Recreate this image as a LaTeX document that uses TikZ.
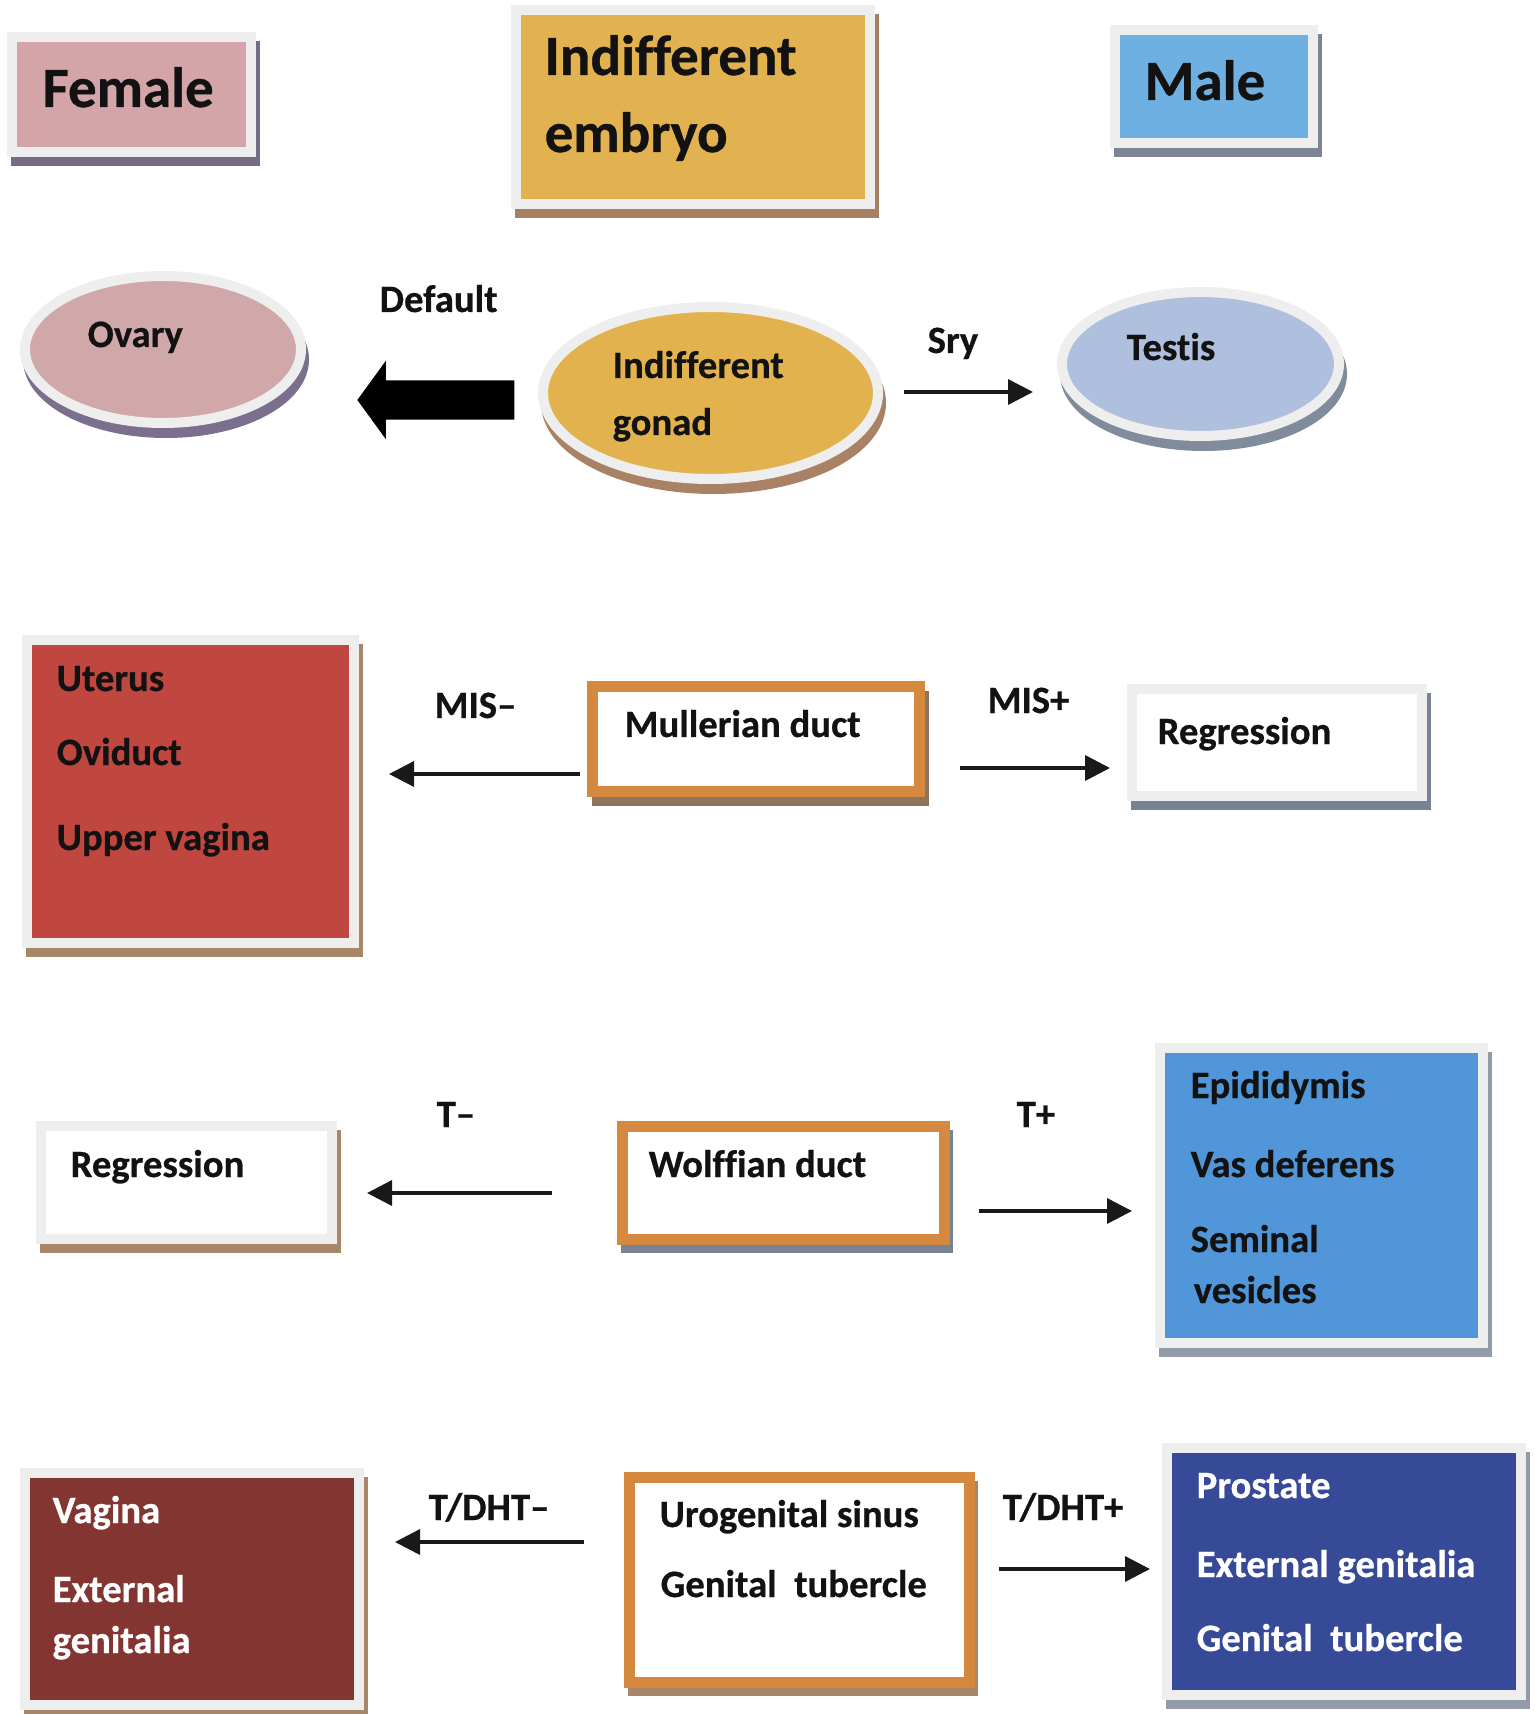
\documentclass[tikz,border=0pt]{standalone}
\usepackage{fontspec}
\setmainfont{Carlito}[Ligatures={TeX,NoCommon}, BoldFeatures={FakeBold=0.6}]
\usetikzlibrary{arrows.meta,shapes.geometric,shapes.arrows}

\definecolor{rim}{HTML}{EEEEEE}
\definecolor{ductline}{HTML}{D4893E}
\definecolor{femalepink}{HTML}{D3A5A8}
\definecolor{femaleshade}{HTML}{766C86}
\definecolor{embryogold}{HTML}{E3B250}
\definecolor{embryoshade}{HTML}{A77F62}
\definecolor{maleblue}{HTML}{6EB0E2}
\definecolor{maleshade}{HTML}{7C8594}
\definecolor{ovarypink}{HTML}{D1A8AA}
\definecolor{ovaryshade}{HTML}{7B6F8E}
\definecolor{gonadgold}{HTML}{E2B24F}
\definecolor{gonadshade}{HTML}{A98265}
\definecolor{testisblue}{HTML}{AEC0DD}
\definecolor{testisshade}{HTML}{808B9B}
\definecolor{uterusred}{HTML}{C0473F}
\definecolor{brownshade}{HTML}{A8866A}
\definecolor{greyshade}{HTML}{778292}
\definecolor{epidblue}{HTML}{5196D9}
\definecolor{vaginared}{HTML}{833631}
\definecolor{prostblue}{HTML}{364A97}

\begin{document}
\begin{tikzpicture}[
    x=0.1mm, y=-0.1mm,
    card/.style 2 args={rectangle, draw=rim, line width=1mm, fill=#1, inner sep=0pt,
      preaction={fill=#2, draw=#2, line width=1mm, transform canvas={shift={(0.4mm,-0.9mm)}}}},
    duct/.style={card={white}{#1}, draw=ductline, line width=1.1mm},
    disc/.style 2 args={ellipse, draw=rim, line width=1mm, fill=#1, inner sep=0pt,
      preaction={fill=#2, draw=#2, line width=1mm, transform canvas={shift={(0.3mm,-1.0mm)}}}},
    title/.style={anchor=base west, inner sep=0pt, text=black!93, font=\bfseries\fontsize{16.2}{19}\selectfont},
    lbl/.style={anchor=base west, inner sep=0pt, text=black!93, font=\bfseries\fontsize{11}{13}\selectfont},
    arr/.style={line width=0.35mm, draw=black!90, -{Triangle[length=2.5mm, width=2.5mm]}},
  ]
    \useasboundingbox (0,0) rectangle (1534,1714);

    % Headings
    \node[card={femalepink}{femaleshade}, minimum width=23.9mm, minimum height=11.5mm] (female) at (131.5,94.5) {};
    \node[title] (female-t) at (42,107) {Female};
    \node[card={embryogold}{embryoshade}, minimum width=35.4mm, minimum height=19.4mm] (embryo) at (693,107) {};
    \node[title] (embryo-t1) at (544,75) {Indifferent};
    \node[title] (embryo-t2) at (544,152) {embryo};
    \node[card={maleblue}{maleshade}, minimum width=19.8mm, minimum height=11.3mm] (male) at (1214,86.5) {};
    \node[title] (male-t) at (1144,100) {Male};

    % Gonads
    \node[disc={ovarypink}{ovaryshade}, minimum width=27.6mm, minimum height=14.7mm] (ovary) at (163,349.5) {};
    \node[lbl] (ovary-t) at (87,347) {Ovary};
    \node[disc={gonadgold}{gonadshade}, minimum width=33.5mm, minimum height=17.2mm,
      preaction={transform canvas={shift={(0.3mm,-1.4mm)}}}] (gonad) at (710.5,393) {};
    \node[lbl] (gonad-t1) at (612,378) {Indifferent};
    \node[lbl] (gonad-t2) at (612,435) {gonad};
    \node[disc={testisblue}{testisshade}, minimum width=27.7mm, minimum height=14.4mm] (testis) at (1200.5,364) {};
    \node[lbl] (testis-t) at (1126,360) {Testis};
    \node[single arrow, fill=black, inner sep=1.9mm, minimum height=15.7mm,
      single arrow head extend=1.95mm, single arrow tip angle=108,
      shape border rotate=180] (default) at (443,400) {};
    \node[lbl] (default-t) at (379,312) {Default};
    \node[lbl] (sry-t) at (927,353) {Sry};
    \coordinate (sry-a) at (904,392);
    \coordinate (sry-b) at (1033,392);
    \draw[arr] (sry-a) -- (sry-b);

    % Mullerian duct
    \node[card={uterusred}{brownshade}, minimum width=32.7mm, minimum height=30.3mm] (uterus) at (190.5,791.5) {};
    \foreach \y/\t [count=\i] in {691/Uterus, 765/Oviduct, 850/Upper vagina}
    { \node[lbl] (uterus-\i) at (56,\y) {\t}; }
    \node[duct={brownshade!85!black}, minimum width=32.7mm, minimum height=10.5mm] (mull) at (756,739) {};
    \node[lbl] (mull-t) at (624,737) {Mullerian duct};
    \node[card={white}{greyshade}, minimum width=29.0mm, minimum height=10.7mm] (regr) at (1277,742.5) {};
    \node[lbl] (regr-t) at (1157,744) {Regression};
    \node[lbl] (mis-minus) at (434,718) {MIS–};
    \node[lbl] (mis-plus) at (987,713) {MIS+};
    \coordinate (mm-a) at (580,774);
    \coordinate (mm-b) at (389,774);
    \coordinate (mp-a) at (960,768);
    \coordinate (mp-b) at (1110,768);
    \draw[arr] (mm-a) -- (mm-b);
    \draw[arr] (mp-a) -- (mp-b);

    % Wolffian duct
    \node[card={white}{brownshade}, minimum width=29.1mm, minimum height=11.3mm] (regl) at (186.5,1182.5) {};
    \node[lbl] (regl-t) at (70,1177) {Regression};
    \node[duct={greyshade}, minimum width=32.2mm, minimum height=11.3mm] (wolff) at (783,1182.5) {};
    \node[lbl] (wolff-t) at (648,1177) {Wolffian duct};
    \node[card={epidblue}{greyshade!80!white}, minimum width=32.3mm, minimum height=29.5mm] (epid) at (1321.5,1195.5) {};
    \foreach \x/\y/\t [count=\i] in {1190/1098/Epididymis, 1190/1177/Vas deferens, 1190/1252/Seminal, 1193/1303/vesicles}
    { \node[lbl] (epid-\i) at (\x,\y) {\t}; }
    \node[lbl] (t-minus) at (436,1127) {T–};
    \node[lbl] (t-plus) at (1016,1127) {T+};
    \coordinate (tm-a) at (552,1193);
    \coordinate (tm-b) at (367,1193);
    \coordinate (tp-a) at (979,1211);
    \coordinate (tp-b) at (1132,1211);
    \draw[arr] (tm-a) -- (tm-b);
    \draw[arr] (tp-a) -- (tp-b);

    % Urogenital sinus
    \node[card={vaginared}{brownshade}, minimum width=33.4mm, minimum height=23.2mm] (vagina) at (192,1589) {};
    \foreach \y/\t [count=\i] in {1523/Vagina, 1602/External, 1653/genitalia}
    { \node[lbl, text=white] (vagina-\i) at (52,\y) {\t}; }
    \node[duct={brownshade}, minimum width=34.0mm, minimum height=20.5mm] (uro) at (799,1579.5) {};
    \node[lbl] (uro-t1) at (659,1527) {Urogenital sinus};
    \node[lbl] (uro-t2) at (660,1597) {Genital\ \ tubercle};
    \node[card={prostblue}{greyshade!80!white}, minimum width=35.4mm, minimum height=24.7mm] (prost) at (1344,1571.5) {};
    \foreach \y/\t [count=\i] in {1498/Prostate, 1577/External genitalia, 1651/Genital\ \ tubercle}
    { \node[lbl, text=white] (prost-\i) at (1196,\y) {\t}; }
    \node[lbl] (dht-minus) at (428,1520) {T/DHT–};
    \node[lbl] (dht-plus) at (1002,1520) {T/DHT+};
    \coordinate (dm-a) at (584,1542);
    \coordinate (dm-b) at (395,1542);
    \coordinate (dp-a) at (999,1569);
    \coordinate (dp-b) at (1150,1569);
    \draw[arr] (dm-a) -- (dm-b);
    \draw[arr] (dp-a) -- (dp-b);
  \end{tikzpicture}
\end{document}
